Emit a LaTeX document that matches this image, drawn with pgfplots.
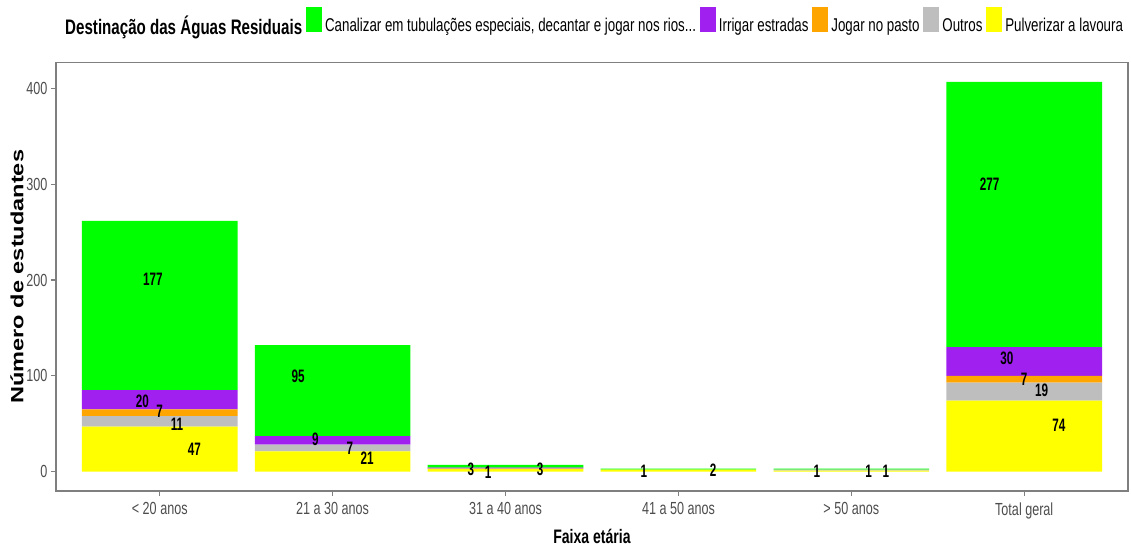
\documentclass[border=0pt]{standalone}
\usepackage{pgfplots}
\pgfplotsset{compat=1.18}
\usepackage{pgfplotstable}
\usepackage{fontspec}
\setmainfont[FakeStretch=0.72]{Liberation Sans}
\newfontfamily\ylabfont[FakeStretch=1.33]{Liberation Sans}
\newfontfamily\labfont[FakeStretch=0.65]{Liberation Sans}
\definecolor{cgreen}{HTML}{00FF00}
\definecolor{cpurple}{HTML}{A020F0}
\definecolor{corange}{HTML}{FFA500}
\definecolor{cgray}{HTML}{BEBEBE}
\definecolor{cyellow}{HTML}{FFFF00}
\definecolor{tickgray}{HTML}{4D4D4D}
\definecolor{framegray}{HTML}{7F7F7F}

\pgfplotstableread{
x yel gry ora pur gre
0 47 11 7 20 177
1 21 7 0 9 95
2 3 0 0 1 3
3 2 0 0 0 1
4 1 1 0 0 1
5 74 19 7 30 277
}\bartab

\pgfplotstableread{
x y lab
-0.04 200.5 177
-0.1 73 20
0.0 63 7
0.1 49.6 11
0.2 23.7 47
0.8 99.4 95
0.9 34 9
1.1 24.5 7
1.2 14 21
1.8 2.5 3
1.9 -1 1
2.2 1.8 3
2.8 0 1
3.2 1 2
3.8 0 1
4.1 0 1
4.2 0 1
4.8 300 277
4.9 118.6 30
5.0 96 7
5.1 84.4 19
5.2 48.8 74
}\lbltab

\pgfplotsset{
  base/.style={scale only axis, width=1072pt, height=428.5pt,
    xmin=-0.6, xmax=5.6, ymin=-20.35, ymax=427.35, at={(0pt,0pt)}, anchor=south west},
  sqkey/.style={legend image code/.code={\fill[#1] (0pt,-5.4pt) rectangle (15pt,18.6pt);}}
}

\begin{document}
\begin{tikzpicture}
\begin{axis}[base, ybar stacked, bar width=0.9,
  axis line style={framegray, line width=1.3pt},
  tick align=outside, tick pos=left, major tick length=5pt,
  tick style={framegray, line width=1.3pt},
  xtick={0,1,2,3,4,5},
  xticklabels={{< 20 anos},{21 a 30 anos},{31 a 40 anos},{41 a 50 anos},{> 50 anos},{Total geral}},
  ytick={0,100,200,300,400},
  ticklabel style={font=\fontsize{17.5}{20}\selectfont, text=tickgray},
  xticklabel style={yshift=-3pt},
  /pgf/number format/assume math mode=true,
  xlabel={\bfseries Faixa etária},
  ylabel={\ylabfont\bfseries Número de estudantes},
  xlabel style={font=\fontsize{19.5}{22}\selectfont, at={(axis description cs:0.5,-0.107)}, anchor=center},
  ylabel style={font=\fontsize{17.7}{20}\selectfont, at={(axis description cs:-0.0364,0.5)}, anchor=center},
  legend columns=-1,
  legend style={at={(axis description cs:0.0047,1.094)}, anchor=west, draw=none, fill=none,
    inner xsep=0pt, inner ysep=0pt, font=\fontsize{18.5}{20}\selectfont,
    nodes={inner xsep=2pt},
    /tikz/every odd column/.append style={column sep=2pt},
    /tikz/every even column/.append style={column sep=1.5pt}},
  legend cell align=left,
]
\addlegendimage{empty legend}
\addlegendentry{\fontsize{21}{22}\selectfont\bfseries Destinação das Águas Residuais}
\addlegendimage{sqkey=cgreen}
\addlegendentry{Canalizar em tubulações especiais, decantar e jogar nos rios...}
\addlegendimage{sqkey=cpurple}
\addlegendentry{Irrigar estradas}
\addlegendimage{sqkey=corange}
\addlegendentry{Jogar no pasto}
\addlegendimage{sqkey=cgray}
\addlegendentry{Outros}
\addlegendimage{sqkey=cyellow}
\addlegendentry{Pulverizar a lavoura}

\addplot[fill=cyellow, draw=none, forget plot] table[x=x, y=yel]{\bartab};
\addplot[fill=cgray, draw=none, forget plot] table[x=x, y=gry]{\bartab};
\addplot[fill=corange, draw=none, forget plot] table[x=x, y=ora]{\bartab};
\addplot[fill=cpurple, draw=none, forget plot] table[x=x, y=pur]{\bartab};
\addplot[fill=cgreen, draw=none, forget plot] table[x=x, y=gre]{\bartab};
\end{axis}
\begin{axis}[base, hide axis, clip=false]
\addplot[draw=none, mark=none, nodes near coords, point meta=explicit symbolic,
  every node near coord/.append style={anchor=center, inner sep=0pt, text=black,
    font=\labfont\bfseries\fontsize{18}{20}\selectfont}]
  table[x=x, y=y, meta=lab]{\lbltab};
\end{axis}
\pgfresetboundingbox
\path (-56pt,-59pt) rectangle (1075pt,491pt);
\end{tikzpicture}
\end{document}
